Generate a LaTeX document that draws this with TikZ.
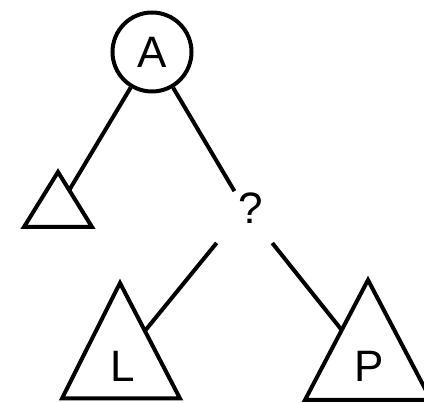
\documentclass[tikz,border=0pt]{standalone}
\usepackage{fontspec}
\setmainfont{Liberation Sans}
\usetikzlibrary{calc}

\begin{document}
\begin{tikzpicture}[x=1pt, y=1pt, line width=4pt,
  font=\fontsize{44}{52}\selectfont,
  root/.style={draw, circle, minimum size=79pt, inner sep=0pt},
  branch/.style={inner sep=0pt},
  subtree/.style={draw, line join=miter}]
  \useasboundingbox (0,0) rectangle (424,403);
  % root and the undecided branch
  \node[root] (A) at (152,351) {A};
  \node[branch] (q) at (244.7,194.5) {\kern12pt?};
  % left subtree
  \coordinate (s-top) at (58,231);
  \coordinate (s-left) at (24,176);
  \coordinate (s-right) at (92,176);
  \path[subtree] (s-top) -- (s-left) -- (s-right) -- cycle;
  % subtree L
  \coordinate (l-top) at (120,120);
  \coordinate (l-left) at (62,4.5);
  \coordinate (l-right) at (180,4.5);
  \path[subtree] (l-top) -- (l-left) -- (l-right) -- cycle;
  \node (L) at (122.5,37) {L};
  % subtree P
  \coordinate (p-top) at (368,123);
  \coordinate (p-left) at (305,3);
  \coordinate (p-right) at (431,3);
  \path[subtree] (p-top) -- (p-left) -- (p-right) -- cycle;
  \node (P) at (368.7,37) {P};
  % where the edges meet the triangles
  \coordinate (s-end) at ($(s-top)!0.33!(s-right)$);
  \coordinate (l-end) at ($(l-top)!0.415!(l-right)$);
  \coordinate (p-end) at ($(p-top)!0.417!(p-left)$);
  \draw (A) -- (s-end);
  \draw (A) -- (q);
  \draw[shorten <=22pt] (q) -- (l-end);
  \draw[shorten <=22pt] (q) -- (p-end);
\end{tikzpicture}
\end{document}
